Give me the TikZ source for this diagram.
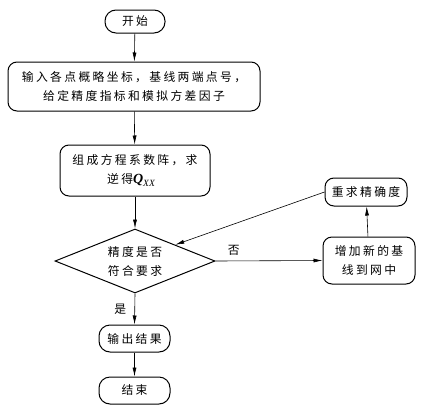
\documentclass[tikz,border=0pt]{standalone}
\usepackage{fontspec}
\setmainfont{Liberation Serif}
\newfontfamily\cjk[LetterSpace=20]{Noto Sans CJK SC}
\newfontfamily\tms{Liberation Serif}
\usetikzlibrary{shapes.geometric,arrows.meta}
\begin{document}
\begin{tikzpicture}[x=1pt,y=-1pt,
  every node/.style={font=\cjk\fontsize{11.8}{19}\selectfont, align=center, line width=1pt, inner sep=0pt},
  term/.style={draw, rounded corners=11pt, minimum width=#1, minimum height=23},
  proc/.style={draw, rounded corners=9pt},
  dec/.style={draw, diamond, aspect=2.5, minimum width=160, minimum height=64},
  arr/.style={-{Latex[length=9pt,width=4pt]}, line width=0.6pt},
  lab/.style={font=\cjk\fontsize{11.8}{13}\selectfont}
]
\useasboundingbox (0,0) rectangle (430,415);
\node[term=60] (start) at (135,21.5) {开始};
\node[proc, minimum width=252, minimum height=49] (input) at (134,86.5) {输入各点概略坐标，基线两端点号，\\给定精度指标和模拟方差因子};
\node[proc, minimum width=150, minimum height=51] (form) at (135,170.5) {组成方程系数阵，求\\逆得{\tms\fontsize{14}{14}\selectfont\bfseries\itshape Q}{\tms\itshape\fontsize{9.5}{9.5}\selectfont\raisebox{-2.5pt}{XX}}\hspace*{8pt}};
\node[dec] (check) at (135,261) {精度是否\\符合要求};
\node[proc, minimum width=92, minimum height=47] (add) at (369,260.5) {增加新的基\\线到网中};
\node[proc, minimum width=82, minimum height=28] (redo) at (366,192) {重求精确度};
\node[term=71, minimum height=27] (out) at (134.5,338.5) {输出结果};
\node[term=71, minimum height=27] (end) at (134.5,390.5) {结束};

\draw[arr] (start) -- (input);
\draw[arr] (input) -- (form);
\draw[arr] (form) -- (check);
\draw[arr] (check.east) -- node[lab, pos=0.17, above=5pt] (no) {否} (add.west);
\draw[arr] (add) -- (redo);
\draw[arr] (redo.west) -- (check.north east);
\draw[arr] (check.south) -- node[lab, pos=0.5, left=8pt] (yes) {是} (out.north);
\draw[arr] (out) -- (end);
\end{tikzpicture}
\end{document}
